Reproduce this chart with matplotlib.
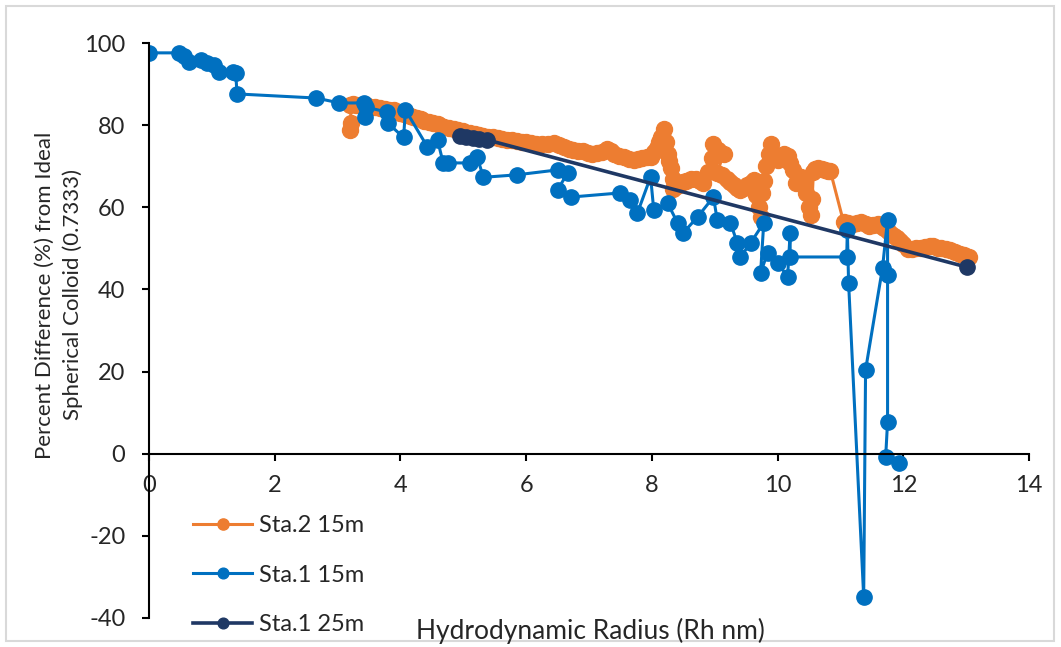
import matplotlib
matplotlib.use("Agg")
import matplotlib.pyplot as plt
from matplotlib.patches import Rectangle

# Sta.2 15m (orange)
sta2_15_x = [3.20, 3.22, 3.20, 3.25, 3.30, 3.38, 3.45, 3.52, 3.60, 3.68, 3.75, 3.82,
             3.90, 3.95, 4.00, 4.05, 4.10, 4.15, 4.20, 4.26, 4.32, 4.38, 4.45, 4.52,
             4.59, 4.65, 4.70, 4.78, 4.85, 4.92, 5.00, 5.05, 5.11, 5.18, 5.25, 5.32,
             5.40, 5.48, 5.55, 5.62, 5.70, 5.78, 5.86, 5.93, 6.00, 6.08, 6.15, 6.25,
             6.34, 6.45, 6.52, 6.60, 6.68, 6.75, 6.82, 6.90, 6.98, 7.05, 7.12, 7.20,
             7.29, 7.35, 7.40, 7.48, 7.55, 7.63, 7.71, 7.78, 7.85, 7.92, 7.98, 8.04,
             8.08, 8.12, 8.15, 8.20, 8.22, 8.25, 8.28, 8.30, 8.34, 8.34, 8.40, 8.45,
             8.50, 8.55, 8.62, 8.70, 8.76, 8.82, 8.90, 8.95, 8.98, 9.05, 9.14, 9.04,
             9.12, 9.20, 9.25, 9.30, 9.36, 9.41, 9.47, 9.52, 9.57, 9.62, 9.66, 9.70,
             9.73, 9.75, 9.78, 9.82, 9.86, 9.89, 9.95, 10.00, 10.05, 10.10, 10.16,
             10.20, 10.25, 10.30, 10.37, 10.42, 10.45, 10.50, 10.53, 10.55, 10.57,
             10.60, 10.64, 10.70, 10.75, 10.80, 10.84, 11.05, 11.12, 11.20, 11.26,
             11.32, 11.40, 11.45, 11.52, 11.60, 11.65, 11.69, 11.75, 11.80, 11.85,
             11.90, 11.95, 12.00, 12.07, 12.14, 12.20, 12.28, 12.35, 12.42, 12.48,
             12.55, 12.60, 12.68, 12.75, 12.82, 12.90, 12.97, 13.05]
sta2_15_y = [78.8, 80.5, 84.8, 85.1, 85.0, 84.9, 84.8, 84.5, 84.3, 84.2, 84.0, 83.8,
             83.6, 83.3, 83.0, 82.8, 82.6, 82.3, 82.0, 81.8, 81.5, 81.1, 80.8, 80.5,
             80.2, 79.9, 79.6, 79.3, 79.0, 78.8, 78.5, 78.2, 78.0, 77.8, 77.6, 77.4,
             77.2, 77.0, 76.8, 76.6, 76.5, 76.3, 76.2, 76.0, 75.8, 75.6, 75.5, 75.4,
             75.3, 75.6, 75.1, 74.6, 74.3, 74.0, 73.8, 73.6, 73.3, 73.0, 73.2, 73.4,
             74.2, 73.6, 73.0, 72.6, 72.2, 71.8, 71.5, 71.8, 72.0, 72.2, 72.3, 73.5,
             74.5, 75.8, 77.0, 79.0, 76.0, 73.0, 71.2, 69.5, 67.0, 64.5, 65.2, 65.8,
             66.2, 66.5, 66.8, 67.0, 66.5, 66.0, 68.5, 72.0, 75.5, 74.0, 73.0, 68.4,
             67.8, 67.0, 66.2, 65.5, 64.8, 64.2, 64.8, 65.5, 66.0, 66.7, 63.0, 60.0,
             57.7, 63.5, 66.5, 70.0, 73.0, 75.5, 73.0, 71.5, 72.2, 73.0, 72.5,
             70.8, 69.0, 66.0, 67.4, 65.5, 63.5, 60.0, 58.0, 62.0, 68.5,
             69.2, 69.5, 69.2, 69.0, 68.9, 68.8, 56.4, 56.2, 56.0, 56.2,
             56.4, 56.0, 55.5, 55.7, 56.0, 55.5, 55.0, 54.2, 53.5, 53.0,
             52.5, 51.8, 51.0, 49.8, 49.9, 50.0, 50.2, 50.4, 50.5, 50.5,
             50.2, 50.0, 49.8, 49.6, 49.1, 48.6, 48.3, 47.9]

# Sta.1 15m (blue)
sta1_15_x = [0.00, 0.47, 0.55, 0.63, 0.83, 0.93, 1.04, 1.11, 1.33, 1.38, 1.40, 2.66,
             3.03, 3.42, 3.43, 3.45, 3.78, 3.80, 4.05, 4.08, 4.43, 4.59, 4.68, 4.75,
             5.10, 5.22, 5.32, 5.85, 6.50, 6.66, 6.50, 6.72, 7.50, 7.66, 7.77, 7.98,
             8.03, 8.25, 8.41, 8.50, 8.73, 8.98, 9.04, 9.25, 9.36, 9.41, 9.57, 9.78,
             9.73, 9.84, 10.00, 10.16, 10.20, 10.20, 11.10, 11.11, 11.13, 11.37,
             11.40, 11.67, 11.75, 11.75, 11.75, 11.72, 11.93]
sta1_15_y = [97.6, 97.6, 96.8, 95.4, 95.9, 95.1, 94.6, 93.0, 93.0, 92.7, 87.6, 86.6,
             85.4, 85.4, 82.0, 84.4, 83.2, 80.5, 77.0, 83.7, 74.7, 76.4, 70.8, 70.8,
             70.8, 72.3, 67.3, 67.9, 69.1, 68.4, 64.2, 62.5, 63.5, 61.8, 58.6, 67.4,
             59.4, 61.0, 56.2, 53.8, 57.7, 62.5, 56.9, 56.2, 51.3, 47.9, 51.3, 56.2,
             44.0, 48.9, 46.5, 43.1, 53.8, 47.9, 47.9, 54.5, 41.6, -34.8,
             20.4, 45.3, 57.0, 43.6, 7.8, -0.7, -2.2]

# Sta.1 25m (navy)
sta1_25_x = [4.95, 5.05, 5.15, 5.25, 5.38, 13.02]
sta1_25_y = [77.3, 77.1, 76.9, 76.7, 76.4, 45.4]

fam = ["Lato", "DejaVu Sans"]
plt.rcParams["font.family"] = fam
plt.rcParams["axes.unicode_minus"] = False
txt = "#262626"
fs = 17

fig = plt.figure(figsize=(10.61, 6.47), dpi=100)
ax = fig.add_axes([149 / 1061, 1 - 618 / 647, 880 / 1061, 575 / 647])

ax.plot(sta2_15_x, sta2_15_y, color="#ED7D31", lw=2.2, marker="o", ms=11.5,
        label="Sta.2 15m")
ax.plot(sta1_15_x, sta1_15_y, color="#0070C0", lw=2.2, marker="o", ms=11,
        label="Sta.1 15m")
ax.plot(sta1_25_x, sta1_25_y, color="#1F3864", lw=2.6, marker="o", ms=11,
        label="Sta.1 25m")

ax.set_xlim(0, 14)
ax.set_ylim(-40, 100)
ax.set_xticks(range(0, 15, 2))
ax.set_yticks(range(-40, 101, 20))
ax.spines["top"].set_visible(False)
ax.spines["right"].set_visible(False)
ax.spines["bottom"].set_position(("data", 0))
for s in ("left", "bottom"):
    ax.spines[s].set_linewidth(1.5)
    ax.spines[s].set_color("black")
ax.tick_params(axis="x", direction="out", length=5, width=1.5, pad=10,
               labelsize=fs, labelcolor=txt)
ax.tick_params(axis="y", direction="out", length=5, width=1.5, pad=12,
               labelsize=fs, labelcolor=txt)

fig.text(45 / 1061, 1 - 295 / 647, "Percent Difference (%) from Ideal",
         rotation=90, ha="center", va="center", fontsize=16, color=txt)
fig.text(73 / 1061, 1 - 295 / 647, "Spherical Colloid (0.7333)",
         rotation=90, ha="center", va="center", fontsize=16, color=txt)
fig.text(590 / 1061, 1 - 631 / 647, "Hydrodynamic Radius (Rh nm)",
         ha="center", va="center", fontsize=19, color=txt)

fig.legend(loc="upper left", bbox_to_anchor=(172 / 1061, 1 - 494 / 647),
           frameon=False, fontsize=fs, labelspacing=1.2, handlelength=2.5,
           handletextpad=0.3, markerscale=0.7, labelcolor=txt)

fig.patches.append(Rectangle((6 / 1061, 6 / 647), 1048 / 1061, 635 / 647,
                             transform=fig.transFigure, fill=False,
                             edgecolor="#d9d9d9", lw=1.5))

fig.savefig("out.png", dpi=100)
